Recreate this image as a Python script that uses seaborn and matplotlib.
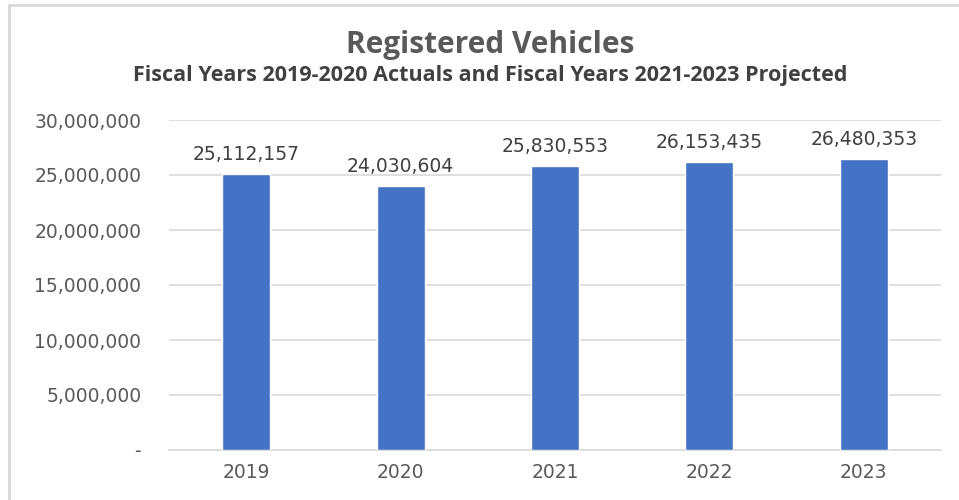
import matplotlib
matplotlib.use("Agg")
import matplotlib.pyplot as plt
import seaborn as sns
import pandas as pd
from matplotlib.patches import Rectangle
from matplotlib.ticker import FuncFormatter

years = ["2019", "2020", "2021", "2022", "2023"]
vehicles = [25112157, 24030604, 25830553, 26153435, 26480353]
labels = ["25,112,157", "24,030,604", "25,830,553", "26,153,435", "26,480,353"]
title = "Registered Vehicles"
subtitle = "Fiscal Years 2019-2020 Actuals and Fiscal Years 2021-2023 Projected"

sns.set_theme(style="white")
plt.rcParams['font.family'] = ['DejaVu Sans']

df = pd.DataFrame({"year": years, "vehicles": vehicles})

fig = plt.figure(figsize=(9.59, 5.0), dpi=100)
ax = fig.add_axes([169/959, 0.10, (941-169)/959, 0.66])
sns.barplot(data=df, x="year", y="vehicles", color="#4472C4", width=0.31,
            saturation=1, ax=ax, zorder=3)

ax.set_ylim(0, 30000000)
ax.set_yticks(range(0, 30000001, 5000000))
ax.yaxis.set_major_formatter(FuncFormatter(lambda v, p: "-" if v == 0 else f"{int(v):,}"))
ax.grid(axis="y", color="#d9d9d9", linewidth=1.2, zorder=0)
for s in ["left", "right", "top"]:
    ax.spines[s].set_visible(False)
ax.spines["bottom"].set_color("#d9d9d9")
ax.spines["bottom"].set_linewidth(1.2)
ax.set_xlabel("")
ax.set_ylabel("")
ax.tick_params(axis="both", length=0, labelsize=13.5, colors="#595959")
ax.tick_params(axis="x", pad=9)
ax.tick_params(axis="y", pad=20)

for i, (v, lab) in enumerate(zip(vehicles, labels)):
    ax.text(i, v + 900000, lab, ha="center", va="bottom", fontsize=13.5, color="#404040")

fig.text(490/959, 1 - 45/500, title, ha="center", va="center", fontsize=21.5,
         fontweight="bold", color="#595959", family=["Open Sans", "DejaVu Sans"])
fig.text(490/959, 1 - 76/500, subtitle, ha="center", va="center", fontsize=15.5,
         fontweight="bold", color="#404040", family=["Open Sans", "DejaVu Sans"])

fig.patches.append(Rectangle((9/959, -0.1), 1.2, 1 - 5/500 + 0.1, transform=fig.transFigure,
                             fill=False, edgecolor="#d9d9d9", linewidth=2))

fig.savefig("out.png", dpi=100)
